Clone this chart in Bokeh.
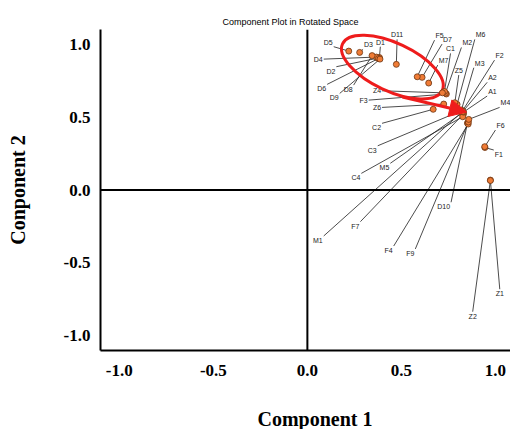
import math
from bokeh.plotting import figure
from bokeh.models import (Range1d, FixedTicker, PrintfTickFormatter, Span, Title,
                          Arrow, NormalHead, ColumnDataSource)
from bokeh.core.properties import value
from bokeh.embed import file_html
from bokeh.resources import INLINE

# ---------------- data ----------------
names = ["D1", "D2", "D3", "D4", "D5", "D6", "D7", "D8", "D9", "D10", "D11",
         "F1", "F2", "F3", "F4", "F5", "F6", "F7", "F9",
         "M1", "M2", "M3", "M4", "M5", "M6", "M7",
         "C1", "C2", "C3", "C4",
         "Z1", "Z2", "Z4", "Z5", "Z6",
         "A1", "A2"]
comp1 = [0.383, 0.375, 0.278, 0.367, 0.220, 0.378, 0.610, 0.344, 0.386, 0.851, 0.473,
         0.944, 0.824, 0.739, 0.855, 0.584, 0.943, 0.830, 0.856,
         0.819, 0.734, 0.819, 0.858, 0.822, 0.796, 0.645,
         0.729, 0.669, 0.814, 0.826,
         0.973, 0.973, 0.718, 0.784, 0.725,
         0.830, 0.827]
comp2 = [0.908, 0.904, 0.943, 0.911, 0.952, 0.901, 0.772, 0.921, 0.897, 0.459, 0.861,
         0.291, 0.541, 0.658, 0.452, 0.776, 0.297, 0.521, 0.466,
         0.531, 0.664, 0.548, 0.484, 0.527, 0.587, 0.733,
         0.675, 0.553, 0.541, 0.502,
         0.068, 0.065, 0.666, 0.598, 0.589,
         0.534, 0.538]
# where each leader line meets its label
label_x = [0.388, 0.154, 0.296, 0.087, 0.140, 0.105, 0.716, 0.246, 0.172, 0.764, 0.477,
           0.991, 0.995, 0.326, 0.459, 0.676, 1.000, 0.282, 0.574,
           0.087, 0.819, 0.885, 1.022, 0.441, 0.890, 0.693,
           0.761, 0.397, 0.374, 0.287,
           1.023, 0.879, 0.397, 0.805, 0.397,
           0.956, 0.956]
label_y = [0.982, 0.845, 0.964, 0.897, 0.982, 0.724, 1.000, 0.719, 0.662, -0.084, 1.032,
           0.274, 0.890, 0.616, -0.384, 1.027, 0.411, -0.217, -0.404,
           -0.315, 0.977, 0.838, 0.566, 0.183, 1.032, 0.856,
           0.936, 0.457, 0.303, 0.114,
           -0.680, -0.834, 0.680, 0.788, 0.566,
           0.644, 0.738]
ticks = [-1.0, -0.5, 0.0, 0.5, 1.0]
title_text = "Component Plot in Rotated Space"
x_title = "Component 1"
y_title = "Conponent 2"

# ---------------- layout ----------------
X0, X1 = -1.1, 1.08
Y0, Y1 = -1.1, 1.10
W, H = 510, 429
BL, BR, BT, BB = 100, 0, 29, 79
FW, FH = W - BL - BR, H - BT - BB
sx, sy = FW / (X1 - X0), FH / (Y1 - Y0)

RED = "#ee1c1c"
SERIF = "Liberation Serif"
SANS = "Liberation Sans"

p = figure(width=W, height=H, x_range=Range1d(X0, X1), y_range=Range1d(Y0, Y1),
           output_backend="svg", toolbar_location=None,
           min_border_left=BL, min_border_right=BR, min_border_top=BT, min_border_bottom=BB)
p.outline_line_color = None
p.grid.visible = False
p.background_fill_color = "white"
p.border_fill_color = "white"

for ax in (p.xaxis[0], p.yaxis[0]):
    ax.ticker = FixedTicker(ticks=ticks)
    ax.formatter = PrintfTickFormatter(format="%.1f")
    ax.major_tick_in = 0
    ax.major_tick_out = 0
    ax.minor_tick_line_color = None
    ax.axis_line_width = 2
    ax.axis_line_color = "black"
    ax.major_label_text_font = SERIF
    ax.major_label_text_font_style = "bold"
    ax.major_label_text_font_size = "17px"
    ax.major_label_text_color = "black"
p.xaxis.major_label_standoff = 14
p.yaxis.major_label_standoff = 10

p.yaxis.axis_label = y_title
p.yaxis.axis_label_text_font = SERIF
p.yaxis.axis_label_text_font_style = "bold"
p.yaxis.axis_label_text_font_size = "20px"
p.yaxis.axis_label_text_color = "black"
p.yaxis.axis_label_standoff = 32

p.add_layout(Span(location=0, dimension="width", line_color="black", line_width=2))
p.add_layout(Span(location=0, dimension="height", line_color="black", line_width=2))

# label placement from the direction of each leader line
aligns, baselines, xo, yo = [], [], [], []
for x, y, lx, ly in zip(comp1, comp2, label_x, label_y):
    dx, dy = (lx - x) * sx, (ly - y) * sy
    if abs(dx) >= 5 * abs(dy):
        a, b = ("left" if dx > 0 else "right"), "middle"
    elif abs(dy) >= 5 * abs(dx):
        a, b = "center", ("bottom" if dy > 0 else "top")
    else:
        a, b = ("left" if dx > 0 else "right"), ("bottom" if dy > 0 else "top")
    aligns.append(a)
    baselines.append(b)
    xo.append(1 if a == "left" else (-1 if a == "right" else 0))
    yo.append(-1 if b == "bottom" else (1 if b == "top" else 0))

src = ColumnDataSource(dict(x=comp1, y=comp2, lx=label_x, ly=label_y, name=names,
                            align=aligns, base=baselines, xo=xo, yo=yo))

p.segment(x0="x", y0="y", x1="lx", y1="ly", source=src, line_color="#1e1e1e", line_width=0.8)
p.text(x="lx", y="ly", text="name", source=src, text_align="align", text_baseline="base",
       x_offset="xo", y_offset="yo", text_font=value(SANS), text_font_size="7px",
       text_color="#222222")

# red highlight ellipse and arrow
p.ellipse(x=[0.452], y=[0.842], width=110, height=48, width_units="screen",
          height_units="screen", angle=-25, angle_units="deg",
          fill_color=None, line_color=RED, line_width=3)
p.add_layout(Arrow(end=NormalHead(size=17, fill_color=RED, line_color=RED),
                   x_start=0.505, y_start=0.637, x_end=0.846, y_end=0.534,
                   line_color=RED, line_width=3))

p.scatter(x="x", y="y", source=src, size=6, fill_color="#f07c36",
          line_color="#6b3410", line_width=0.8)

p.add_layout(Title(text=title_text, align="left", offset=122, standoff=6,
                   text_font=SANS, text_font_size="9px", text_font_style="normal",
                   text_color="black"), "above")
# blank spacer between the x tick labels and the x title
p.add_layout(Title(text=" ", standoff=24, text_font_size="1px"), "below")
p.add_layout(Title(text=x_title, align="left", offset=157, standoff=0,
                   text_font=SERIF, text_font_style="bold",
                   text_font_size="20px", text_color="black"), "below")

open("out.html", "w").write(file_html(p, INLINE))
